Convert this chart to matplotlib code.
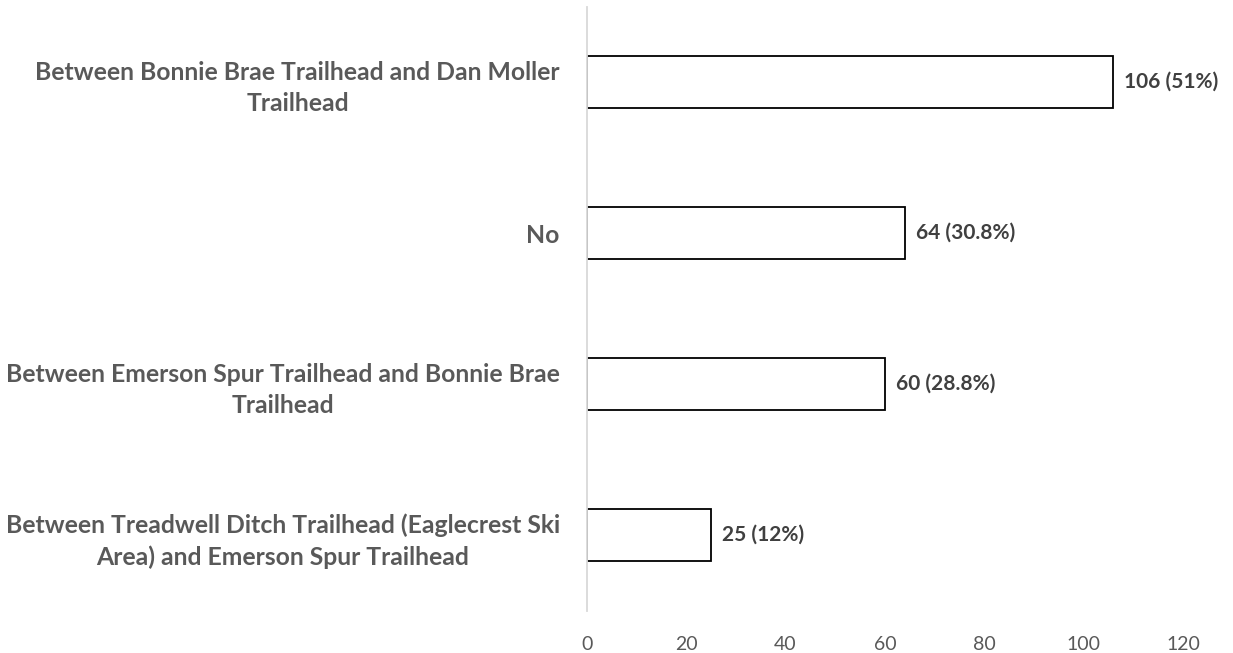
import matplotlib
matplotlib.use("Agg")
import matplotlib.pyplot as plt

# Data (top to bottom as shown)
categories = [
    "Between Bonnie Brae Trailhead and Dan Moller\nTrailhead",
    "No",
    "Between Emerson Spur Trailhead and Bonnie Brae\nTrailhead",
    "Between Treadwell Ditch Trailhead (Eaglecrest Ski\nArea) and Emerson Spur Trailhead",
]
counts = [106, 64, 60, 25]
percents = ["51%", "30.8%", "28.8%", "12%"]
xticks = [0, 20, 40, 60, 80, 100, 120]

plt.rcParams['font.family'] = ['Lato', 'DejaVu Sans']

fig = plt.figure(figsize=(12.33, 6.53), dpi=100)
ax = fig.add_axes([0.476, 0.065, 0.4834, 0.925])

ypos = list(range(len(categories)))
bars = ax.barh(ypos, counts, height=0.35, color='white', edgecolor='black', linewidth=1.3)

# value labels
for bar, c, p in zip(bars, counts, percents):
    ax.text(bar.get_width() + 2.2, bar.get_y() + bar.get_height() / 2, f"{c} ({p})",
            ha='left', va='center', fontsize=15, fontweight='bold', color='#404040')

ax.set_ylim(len(categories) - 0.5, -0.5)
ax.set_xlim(0, 120)
ax.set_yticks(ypos)
ax.set_yticklabels(categories, fontsize=17.8, fontweight='bold', color='#595959',
                   multialignment='center', linespacing=1.42)
ax.set_xticks(xticks)
ax.set_xticklabels([str(t) for t in xticks], fontsize=14, color='#595959')

ax.tick_params(axis='y', length=0, pad=19.5)
ax.tick_params(axis='x', length=0, pad=18.5)
for s in ['top', 'right', 'bottom']:
    ax.spines[s].set_visible(False)
ax.spines['left'].set_color('#d9d9d9')
ax.spines['left'].set_linewidth(1.3)

fig.savefig("out.png", dpi=100)
